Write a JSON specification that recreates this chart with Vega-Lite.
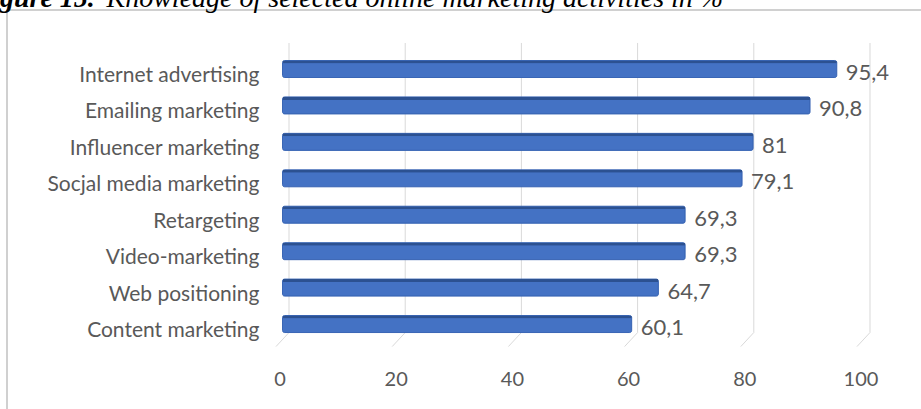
{
  "$schema": "https://vega.github.io/schema/vega-lite/v6.json",
  "width": 920,
  "height": 405,
  "autosize": {"type": "none"},
  "padding": {"left": 7, "top": 10, "right": -6, "bottom": -6},
  "background": "white",
  "config": {
    "view": {"stroke": "#d0d0d0", "strokeWidth": 2},
    "locale": {"number": {"decimal": ",", "thousands": " ", "grouping": [3], "currency": ["", ""]}},
    "axis": {"labelFont": "Lato", "labelColor": "#595959", "labelFontSize": 20}
  },
  "datasets": {
    "activities": [
      {"activity": "Internet advertising", "share": 95.4},
      {"activity": "Emailing marketing", "share": 90.8},
      {"activity": "Influencer marketing", "share": 81},
      {"activity": "Socjal media marketing", "share": 79.1},
      {"activity": "Retargeting", "share": 69.3},
      {"activity": "Video-marketing", "share": 69.3},
      {"activity": "Web positioning", "share": 64.7},
      {"activity": "Content marketing", "share": 60.1}
    ],
    "gridTicks": [
      {"tick": 0}, {"tick": 20}, {"tick": 40}, {"tick": 60}, {"tick": 80}, {"tick": 100}
    ]
  },
  "resolve": {"axis": {"x": "independent", "y": "independent"}},
  "layer": [
    {
      "data": {"name": "gridTicks"},
      "mark": {"type": "rule", "color": "#d9d9d9", "strokeWidth": 1, "xOffset": 6.5},
      "encoding": {
        "x": {
          "field": "tick",
          "type": "quantitative",
          "scale": {"domain": [-47.42, 110.93], "zero": false, "nice": false},
          "axis": {
            "orient": "top",
            "labels": false,
            "ticks": false,
            "grid": false,
            "domain": false,
            "title": "Knowledge of selected online marketing activities in %",
            "titleFont": "Liberation Serif",
            "titleFontSize": 28,
            "titleFontStyle": "italic",
            "titleFontWeight": "normal",
            "titleColor": "#000000",
            "titleX": 99,
            "titleY": -3.5,
            "titleAlign": "left",
            "titleBaseline": "alphabetic"
          }
        },
        "y": {
          "datum": "Internet advertising",
          "type": "nominal",
          "bandPosition": -1.03,
          "scale": {
            "type": "band",
            "domain": [
              "Internet advertising", "Emailing marketing", "Influencer marketing",
              "Socjal media marketing", "Retargeting", "Video-marketing",
              "Web positioning", "Content marketing"
            ],
            "range": [14.07, 358.97],
            "paddingInner": 0.533,
            "paddingOuter": 1,
            "align": 0.5
          },
          "axis": null
        },
        "y2": {"datum": "Content marketing", "bandPosition": 1}
      }
    },
    {
      "data": {"name": "gridTicks"},
      "mark": {"type": "rule", "color": "#d9d9d9", "strokeWidth": 1, "xOffset": 6.5, "x2Offset": -6.5, "y2Offset": 14},
      "encoding": {
        "x": {"field": "tick", "type": "quantitative", "axis": null},
        "x2": {"field": "tick"},
        "y": {"datum": "Content marketing", "type": "nominal", "bandPosition": 1, "axis": null},
        "y2": {"datum": "Content marketing", "bandPosition": 1}
      }
    },
    {
      "data": {"name": "activities"},
      "mark": {"type": "bar", "fill": "#4472c4", "stroke": "#3a66b5", "strokeWidth": 1, "cornerRadius": 2},
      "encoding": {
        "x": {
          "field": "share",
          "type": "quantitative",
          "axis": {
            "orient": "bottom",
            "values": [0, 20, 40, 60, 80, 100],
            "offset": -30,
            "labelOffset": -3,
            "labelPadding": 0,
            "labelBaseline": "alphabetic",
            "ticks": false,
            "tickSize": 0,
            "domain": false,
            "grid": false,
            "title": null
          }
        },
        "y": {
          "field": "activity",
          "type": "nominal",
          "sort": null,
          "axis": {
            "orient": "left",
            "domain": false,
            "ticks": false,
            "tickSize": 0,
            "grid": false,
            "labelFontSize": 21,
            "labelPadding": -252,
            "labelOffset": 13,
            "labelBaseline": "alphabetic",
            "labelLimit": 400,
            "title": "Figure 15.",
            "titleAngle": 0,
            "titleX": -34,
            "titleY": -3.5,
            "titleAlign": "left",
            "titleBaseline": "alphabetic",
            "titleFont": "Liberation Serif",
            "titleFontSize": 28,
            "titleFontStyle": "italic",
            "titleFontWeight": "bold",
            "titleColor": "#000000"
          }
        }
      }
    },
    {
      "data": {"name": "activities"},
      "mark": {"type": "bar", "fill": "#2c5191", "height": 3, "yOffset": -7, "cornerRadius": 1},
      "encoding": {
        "x": {"field": "share", "type": "quantitative", "axis": null},
        "y": {"field": "activity", "type": "nominal", "sort": null, "axis": null}
      }
    },
    {
      "data": {"name": "activities"},
      "mark": {"type": "text", "align": "left", "baseline": "alphabetic", "dx": 9, "dy": 11, "font": "Lato", "fontSize": 22, "fill": "#595959"},
      "encoding": {
        "x": {"field": "share", "type": "quantitative", "axis": null},
        "y": {"field": "activity", "type": "nominal", "sort": null, "axis": null},
        "text": {"field": "share", "type": "quantitative", "format": ".3~r"}
      }
    }
  ]
}
